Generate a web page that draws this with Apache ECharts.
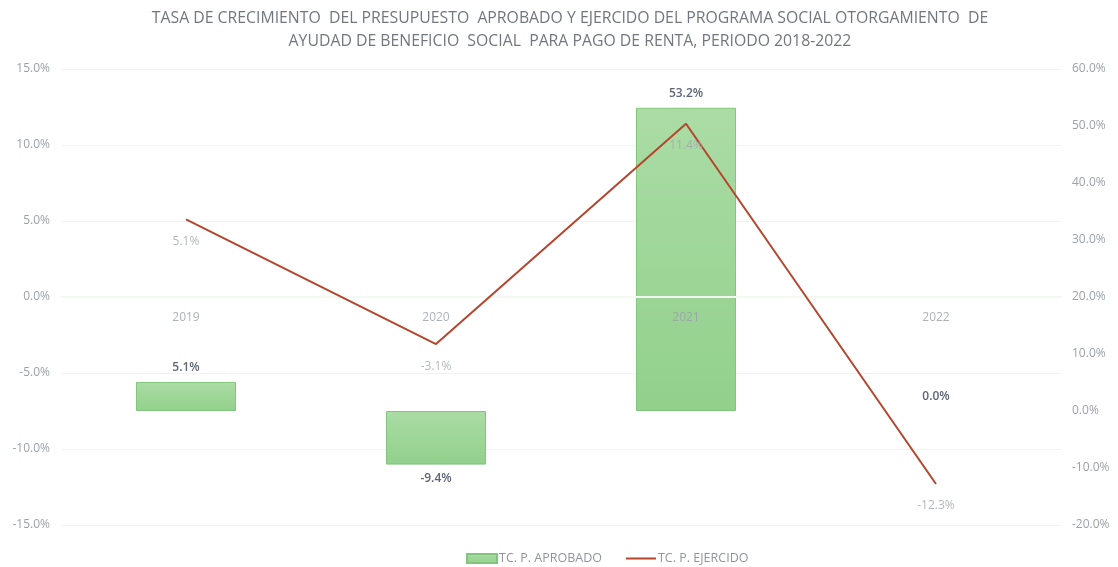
<!DOCTYPE html>
<html>
<head>
<meta charset="utf-8">
<script src="https://cdn.jsdelivr.net/npm/echarts@6/dist/echarts.min.js"></script>
<style>
  html, body { margin: 0; padding: 0; background: #fff; }
  #chart { width: 1118px; height: 567px; }
</style>
</head>
<body>
<div id="chart"></div>
<script>
// Growth rates of the approved and exercised budget, 2019-2022
const years = ['2019', '2020', '2021', '2022'];
const aprobado = [5.1, -9.4, 53.2, 0.0];   // right axis (bars)
const ejercido = [5.1, -3.1, 11.4, -12.3]; // left axis (line)

const titleLines = [
  'TASA DE CRECIMIENTO  DEL PRESUPUESTO  APROBADO Y EJERCIDO DEL PROGRAMA SOCIAL OTORGAMIENTO  DE',
  'AYUDAD DE BENEFICIO  SOCIAL  PARA PAGO DE RENTA, PERIODO 2018-2022'
];

const FONT = 'Open Sans';
const pct = v => v.toFixed(1) + '%';

const chart = echarts.init(document.getElementById('chart'));

chart.setOption({
  animation: false,
  backgroundColor: '#ffffff',
  textStyle: { fontFamily: FONT },
  title: {
    text: titleLines.join('\n'),
    left: 565,
    textAlign: 'center',
    top: 2,
    textStyle: {
      fontFamily: FONT,
      fontSize: 15.8,
      fontWeight: 'normal',
      color: '#72777f',
      lineHeight: 23
    }
  },
  legend: {
    left: 466,
    top: 552,
    padding: 0,
    itemWidth: 30,
    itemHeight: 9,
    itemGap: 24,
    textStyle: { fontFamily: FONT, fontSize: 12.5, color: '#90959d', padding: [0, 0, 0, -3] },
    data: [
      { name: 'TC. P. APROBADO', icon: 'rect' },
      { name: 'TC. P. EJERCIDO', icon: 'path://M0,0H30V2H0Z' }
    ]
  },
  grid: { left: 61, right: 57, top: 69, height: 456 },
  xAxis: {
    type: 'category',
    data: years,
    z: 3,
    axisLine: { show: true, onZero: true, onZeroAxisIndex: 0, lineStyle: { color: '#f4f8f3', width: 2 } },
    axisTick: { show: false },
    axisLabel: { show: false },
    splitLine: { show: false }
  },
  yAxis: [
    {
      type: 'value',
      min: -15, max: 15, interval: 5,
      axisLine: { show: false },
      axisTick: { show: false },
      axisLabel: { margin: 11, fontFamily: FONT, fontSize: 12, color: '#9ca1aa', formatter: v => pct(v) },
      splitLine: { show: true, lineStyle: { color: '#f2f2f2', width: 1 } }
    },
    {
      type: 'value',
      min: -20, max: 60, interval: 10,
      position: 'right',
      axisLine: { show: false },
      axisTick: { show: false },
      axisLabel: { margin: 11, fontFamily: FONT, fontSize: 12, color: '#9ca1aa', formatter: v => pct(v) },
      splitLine: { show: false }
    }
  ],
  series: [
    {
      name: 'TC. P. APROBADO',
      type: 'bar',
      yAxisIndex: 1,
      barWidth: '40%',
      z: 2,
      itemStyle: {
        color: new echarts.graphic.LinearGradient(0, 0, 0, 1, [
          { offset: 0, color: '#abdca5' },
          { offset: 1, color: '#92d08c' }
        ]),
        borderColor: '#82c67e',
        borderWidth: 1
      },
      label: {
        show: true,
        position: 'top',
        distance: 8,
        fontFamily: FONT,
        fontSize: 12,
        fontWeight: 600,
        color: '#5d6577',
        formatter: p => pct(p.value)
      },
      data: aprobado.map(v => {
        if (v < 0) return { value: v, label: { position: 'bottom' } };
        if (v === 0) return { value: v, itemStyle: { borderWidth: 0 } };
        return { value: v };
      })
    },
    {
      name: 'TC. P. EJERCIDO',
      type: 'line',
      yAxisIndex: 0,
      z: 4,
      symbol: 'none',
      lineStyle: { color: '#b5452d', width: 2 },
      itemStyle: { color: '#b5452d' },
      data: ejercido
    },
    {
      // value labels under each point of the exercised-budget line
      name: 'ejercido-labels',
      type: 'scatter',
      yAxisIndex: 0,
      z: 5,
      symbolSize: 0,
      silent: true,
      label: {
        show: true,
        position: 'bottom',
        distance: 16,
        fontFamily: FONT,
        fontSize: 12,
        color: '#a2a6ae',
        formatter: p => pct(p.value[1])
      },
      data: ejercido.map((v, i) => [years[i], v])
    },
    {
      // year labels sitting on the zero line of the left axis
      name: 'year-labels',
      type: 'scatter',
      yAxisIndex: 0,
      z: 5,
      symbolSize: 0,
      silent: true,
      label: {
        show: true,
        position: 'bottom',
        distance: 15,
        fontFamily: FONT,
        fontSize: 12,
        color: '#9a9fa7',
        formatter: p => p.value[0]
      },
      data: years.map(y => [y, 0])
    }
  ]
});
</script>
</body>
</html>
